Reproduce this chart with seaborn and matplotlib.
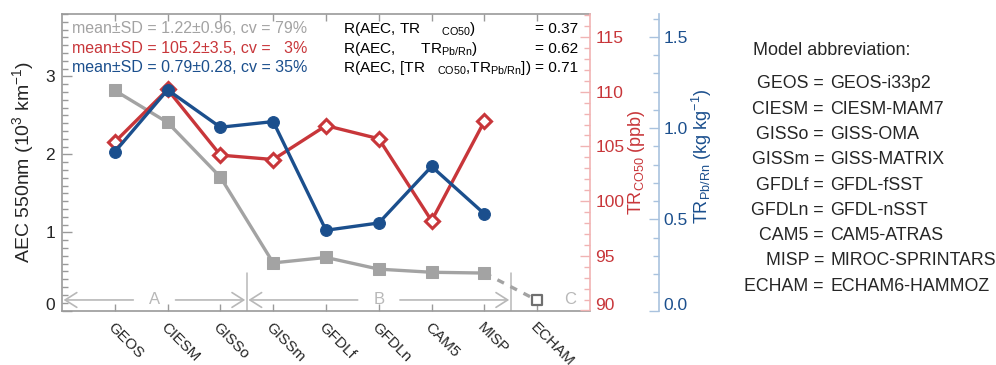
import numpy as np
import pandas as pd
import matplotlib
matplotlib.use("Agg")
import matplotlib.pyplot as plt
import matplotlib.transforms as mtransforms
from matplotlib.ticker import MultipleLocator, FormatStrFormatter
import seaborn as sns

# ---------------- data ----------------
models = ["GEOS", "CIESM", "GISSo", "GISSm", "GFDLf", "GFDLn", "CAM5", "MISP", "ECHAM"]
full_names = ["GEOS-i33p2", "CIESM-MAM7", "GISS-OMA", "GISS-MATRIX", "GFDL-fSST",
              "GFDL-nSST", "CAM5-ATRAS", "MIROC-SPRINTARS", "ECHAM6-HAMMOZ"]
groups = ["A", "A", "A", "B", "B", "B", "B", "B", "C"]
aec = [2.82, 2.41, 1.71, 0.61, 0.68, 0.53, 0.49, 0.48, 0.13]          # 10^3 km-1
tr_co50 = [105.4, 110.2, 104.2, 103.8, 106.9, 105.7, 98.2, 107.3]      # ppb
tr_pbrn = [0.87, 1.21, 1.005, 1.036, 0.44, 0.48, 0.79, 0.53]           # kg kg-1
stats_lines = ["mean\u00b1SD = 1.22\u00b10.96, cv = 79%",
               "mean\u00b1SD = 105.2\u00b13.5, cv =   3%",
               "mean\u00b1SD = 0.79\u00b10.28, cv = 35%"]
r_labels = [r"R(AEC, TR     $_{\mathrm{CO50}}$)",
            r"R(AEC,      TR$_{\mathrm{Pb/Rn}}$)",
            r"R(AEC, [TR   $_{\mathrm{CO50}}$,TR$_{\mathrm{Pb/Rn}}$])"]
r_values = ["= 0.37", "= 0.62", "= 0.71"]

# ---------------- style ----------------
sns.set_style("ticks")
plt.rcParams["font.family"] = ["Liberation Sans", "DejaVu Sans"]
plt.rcParams["mathtext.fontset"] = "custom"
plt.rcParams["mathtext.rm"] = "Liberation Sans"
plt.rcParams["mathtext.it"] = "Liberation Sans:italic"
plt.rcParams["mathtext.bf"] = "Liberation Sans:bold"
plt.rcParams["mathtext.default"] = "regular"

GRAY = "#a3a3a3"
RED = "#c8363a"
BLUE = "#1b4f8d"
PINK = "#f1b3b3"
LBLUE = "#a9c2de"
SPINE = "#9a9a9a"
LGRAY = "#b8b8b8"

pos = np.arange(1, len(models) + 1)
df_g = pd.DataFrame({"pos": pos[:8], "aec": aec[:8]})
df_e = pd.DataFrame({"pos": pos[7:9], "aec": aec[7:9]})
df_r = pd.DataFrame({"pos": pos[:8], "tr": tr_co50})
df_b = pd.DataFrame({"pos": pos[:8], "tr": tr_pbrn})

W, H = 996, 365
fig = plt.figure(figsize=(W / 100, H / 100), dpi=100)
x0, x1, y0, y1 = 62, 590, 310.5, 14
ax = fig.add_axes([x0 / W, 1 - y0 / H, (x1 - x0) / W, (y0 - y1) / H])
ax2 = ax.twinx()
ax3 = ax.twinx()
for a in (ax2, ax3):
    a.patch.set_visible(False)

# ---------------- left axis (AEC) ----------------
sns.lineplot(data=df_g, x="pos", y="aec", ax=ax, color=GRAY, lw=2.4,
             marker="s", markersize=8, markeredgecolor=GRAY, estimator=None, sort=False, zorder=3)
sns.lineplot(data=df_e, x="pos", y="aec", ax=ax, color=GRAY, lw=2.4,
             linestyle=(0, (2.2, 2.2)), estimator=None, sort=False, zorder=2)
sns.scatterplot(x=[pos[8]], y=[aec[8]], ax=ax, marker="s", s=55, facecolor="white",
                edgecolor="#6f6f6f", linewidth=1.6, zorder=4)

ax.set_xlim(0, 10)
ax.set_ylim(0, 3.8)
ax.yaxis.set_major_locator(MultipleLocator(1))
ax.yaxis.set_minor_locator(MultipleLocator(0.1))
ax.set_xticks(pos)
ax.set_xticklabels(models, rotation=-45, ha="left", va="top", rotation_mode="anchor", fontsize=11)
offset = mtransforms.ScaledTranslation(0 / 100, 0, fig.dpi_scale_trans)
for lab in ax.get_xticklabels():
    lab.set_transform(lab.get_transform() + offset)
ax.tick_params(axis="x", which="both", direction="in", top=True, bottom=True, length=5,
               width=1, color=SPINE, pad=7)
ax.tick_params(axis="y", which="major", direction="in", left=True, right=False, length=7,
               width=1, color=SPINE, labelsize=12.5, pad=5)
ax.tick_params(axis="y", which="minor", direction="in", left=True, right=False, length=4.5,
               width=1, color=SPINE)
for s in ("left", "bottom", "top"):
    ax.spines[s].set_color(SPINE)
    ax.spines[s].set_linewidth(1.2)
ax.spines["right"].set_visible(False)
ax.set_xlabel("")
ax.set_ylabel("AEC 550nm (10$^{3}$ km$^{-1}$)", fontsize=14)
ax.yaxis.set_label_coords(-0.05, 0.5)

# group separators & arrows
ay = 0.135
bounds = [0.0]
for i in range(1, len(groups)):
    if groups[i] != groups[i - 1]:
        b = (pos[i] + pos[i - 1]) / 2
        bounds.append(b)
        ax.plot([b, b], [0, 0.48], color=LGRAY, lw=1.1, zorder=1)
arrow_kw = dict(arrowstyle="->,head_length=0.6,head_width=0.38", color=LGRAY, lw=1.2,
                mutation_scale=14, shrinkA=0, shrinkB=0)
glabels = ["A", "B"]
for g, (b0, b1) in zip(glabels, zip(bounds[:-1], bounds[1:])):
    mid = (b0 + b1) / 2
    ax.annotate("", xy=(b0 + 0.03, ay), xytext=(mid - 0.4, ay), arrowprops=arrow_kw)
    ax.annotate("", xy=(b1 - 0.03, ay), xytext=(mid + 0.4, ay), arrowprops=arrow_kw)
    ax.text(mid, ay, g, color=LGRAY, fontsize=12, ha="center", va="center")
ax.text(pos[-1] + 0.63, ay, "C", color=LGRAY, fontsize=12, ha="center", va="center")

# ---------------- red axis ----------------
sns.lineplot(data=df_r, x="pos", y="tr", ax=ax2, color=RED, lw=2.4, marker="D",
             markersize=7, markerfacecolor="white", markeredgecolor=RED, markeredgewidth=2.2,
             estimator=None, sort=False)
ax2.set_ylim(90, 117.1)
ax2.yaxis.set_major_locator(MultipleLocator(5))
ax2.yaxis.set_minor_locator(MultipleLocator(1))
ax2.tick_params(axis="y", which="major", direction="in", length=7, width=1, color=PINK,
                labelcolor=RED, labelsize=12.5, pad=4)
ax2.tick_params(axis="y", which="minor", direction="in", length=4.5, width=1, color=PINK)
for s in ("left", "bottom", "top"):
    ax2.spines[s].set_visible(False)
ax2.spines["right"].set_color(PINK)
ax2.spines["right"].set_linewidth(1.2)
ax2.set_xlabel("")
ax2.set_ylabel(r"TR$_{\mathrm{CO50}}$ (ppb)", color=RED, fontsize=13)
ax2.yaxis.set_label_coords(1.068, 0.5)

# ---------------- blue axis ----------------
sns.lineplot(data=df_b, x="pos", y="tr", ax=ax3, color=BLUE, lw=2.4, marker="o",
             markersize=8.5, markeredgecolor=BLUE, estimator=None, sort=False)
ax3.set_ylim(0, 1.626)
ax3.spines["right"].set_position(("outward", 69 * 0.72))
ax3.yaxis.set_major_locator(MultipleLocator(0.5))
ax3.yaxis.set_minor_locator(MultipleLocator(0.1))
ax3.yaxis.set_major_formatter(FormatStrFormatter("%.1f"))
ax3.tick_params(axis="y", which="major", direction="in", length=7, width=1, color=LBLUE,
                labelcolor=BLUE, labelsize=12.5, pad=3)
ax3.tick_params(axis="y", which="minor", direction="in", length=4.5, width=1, color=LBLUE)
for s in ("left", "bottom", "top"):
    ax3.spines[s].set_visible(False)
ax3.spines["right"].set_color(LBLUE)
ax3.spines["right"].set_linewidth(1.2)
ax3.set_xlabel("")
ax3.set_ylabel(r"TR$_{\mathrm{Pb/Rn}}$ (kg kg$^{-1}$)", color=BLUE, fontsize=13)
ax3.yaxis.set_label_coords(1.19, 0.52)
ax3.set_xlim(0, 10)
ax2.set_xlim(0, 10)

# lift the bottom tick label of each y axis slightly (as in the reference)
lift = mtransforms.ScaledTranslation(0, 6 / 100, fig.dpi_scale_trans)
for a in (ax, ax2, ax3):
    bottom = a.get_ylim()[0]
    for tick, loc in zip(a.yaxis.get_major_ticks(), a.yaxis.get_majorticklocs()):
        if abs(loc - bottom) < 1e-9:
            for lab in (tick.label1, tick.label2):
                lab.set_transform(lab.get_transform() + lift)

# ---------------- annotations ----------------
colors = [GRAY, RED, BLUE]
base_y = [33, 52.7, 71.7]
for txt, c, by in zip(stats_lines, colors, base_y):
    fig.text(72 / W, 1 - by / H, txt, color=c, fontsize=11.5, ha="left", va="baseline")
for txt, val, by in zip(r_labels, r_values, base_y):
    fig.text(343 / W, 1 - by / H, txt, color="black", fontsize=11.1, ha="left", va="baseline")
    fig.text(578 / W, 1 - by / H, val, color="black", fontsize=11.1, ha="right", va="baseline")

# model abbreviation panel
fig.text(753 / W, 1 - 55 / H, "Model abbreviation:", fontsize=13, ha="left", va="baseline")
for i, (m, fn) in enumerate(zip(models, full_names)):
    by = 88.3 + i * 25.3
    fig.text(824 / W, 1 - by / H, m + " =", fontsize=12.8, ha="right", va="baseline")
    fig.text(830 / W, 1 - by / H, fn, fontsize=12.8, ha="left", va="baseline")

fig.savefig("out.png", dpi=100)
